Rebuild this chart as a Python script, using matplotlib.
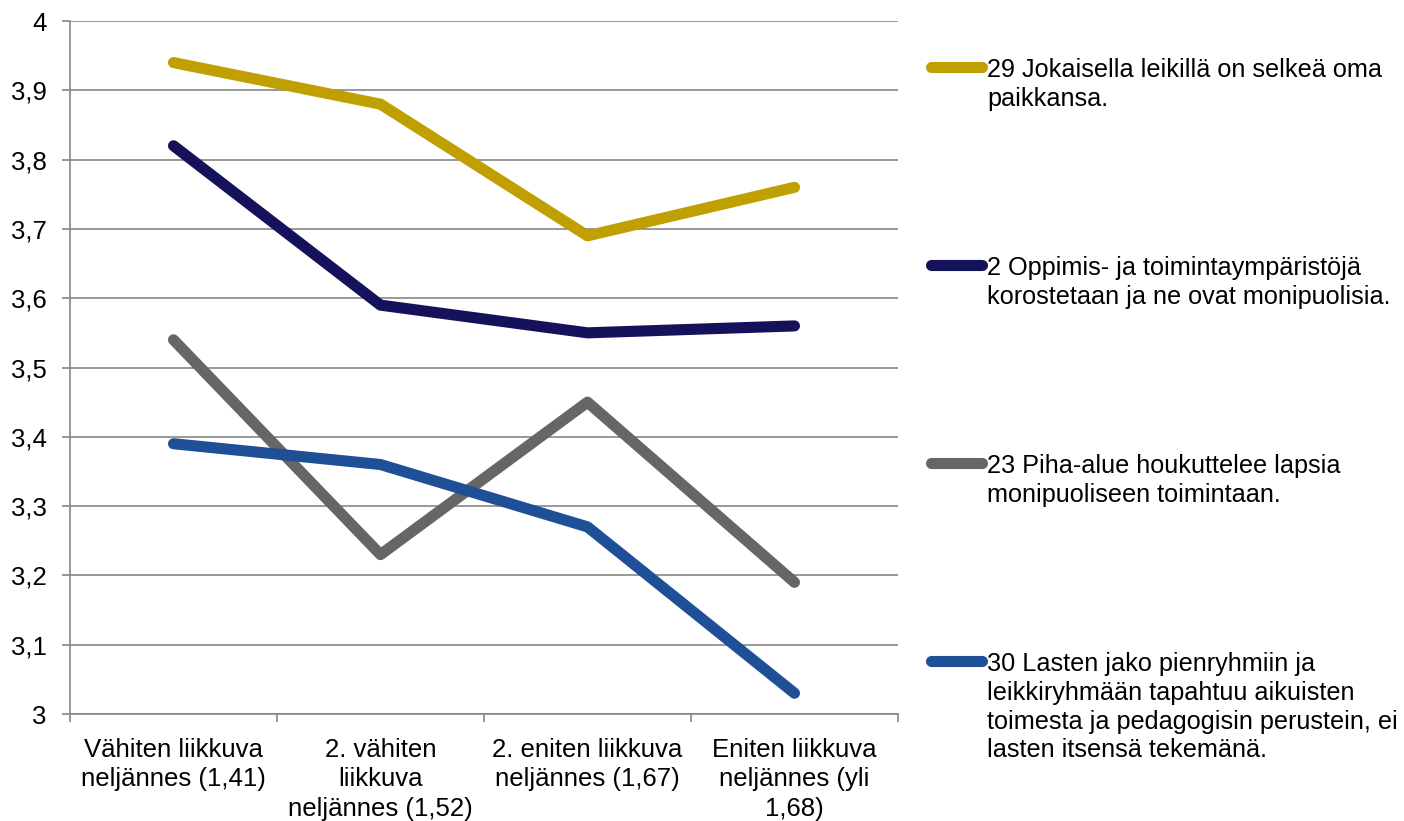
import matplotlib
matplotlib.use("Agg")
import matplotlib.pyplot as plt
from matplotlib.lines import Line2D
import numpy as np

plt.rcParams['font.family'] = ['Liberation Sans', 'DejaVu Sans']

categories = ["Vähiten liikkuva\nneljännes (1,41)", "2. vähiten\nliikkuva\nneljännes (1,52)",
              "2. eniten liikkuva\nneljännes (1,67)", "Eniten liikkuva\nneljännes (yli\n1,68)"]
series_names = ["29 Jokaisella leikillä on selkeä oma\npaikkansa.",
                "2 Oppimis- ja toimintaympäristöjä\nkorostetaan ja ne ovat monipuolisia.",
                "23 Piha-alue houkuttelee lapsia\nmonipuoliseen toimintaan.",
                "30 Lasten jako pienryhmiin ja\nleikkiryhmään tapahtuu aikuisten\ntoimesta ja pedagogisin perustein, ei\nlasten itsensä tekemänä."]
s29 = [3.94, 3.88, 3.69, 3.76]
s2 = [3.82, 3.59, 3.55, 3.56]
s23 = [3.54, 3.23, 3.45, 3.19]
s30 = [3.39, 3.36, 3.27, 3.03]
yticks = [3.0, 3.1, 3.2, 3.3, 3.4, 3.5, 3.6, 3.7, 3.8, 3.9, 4.0]
ytick_labels = ["3", "3,1", "3,2", "3,3", "3,4", "3,5", "3,6", "3,7", "3,8", "3,9", "4"]

colors = ["#C09F00", "#14125A", "#666666", "#1F5097"]
W, H = 1404, 821
fig = plt.figure(figsize=(W/100, H/100), dpi=100)
ax = fig.add_axes([70/W, 1-714/H, (898-70)/W, (714-21)/H])

x = np.arange(len(categories))
for vals, c in zip([s29, s2, s23, s30], colors):
    ax.plot(x, vals, color=c, lw=8, solid_capstyle='round', solid_joinstyle='round', zorder=3)

ax.set_xlim(-0.5, 3.5)
ax.set_ylim(3.0, 4.0)
ax.set_yticks(yticks)
ax.set_yticklabels(ytick_labels, fontsize=18.5)
ax.yaxis.grid(True, color="#868686", lw=1.2)
ax.set_axisbelow(True)
ax.tick_params(axis='y', length=6, width=1.2, color="#868686", pad=11)
ax.set_xticks(x)
ax.set_xticklabels(categories, fontsize=18.5, linespacing=1.3)
ax.tick_params(axis='x', which='major', length=0, pad=17)
ax.set_xticks(np.arange(-0.5, 3.6, 1), minor=True)
ax.tick_params(axis='x', which='minor', length=6, width=1.2, color="#868686")
for s in ['top', 'right']:
    ax.spines[s].set_visible(False)
for s in ['left', 'bottom']:
    ax.spines[s].set_color("#868686")
    ax.spines[s].set_linewidth(1.2)

# legend drawn manually
for i, (name, c) in enumerate(zip(series_names, colors)):
    yp = 67 + 198*i
    fig.add_artist(Line2D([931/W, 982/W], [1-yp/H, 1-yp/H], color=c, lw=8,
                          solid_capstyle='round', transform=fig.transFigure))
    fig.text(987/W, 1-(yp-9)/H, name, fontsize=18.2, va='top', ha='left', linespacing=1.25)

fig.savefig("out.png", dpi=100)
